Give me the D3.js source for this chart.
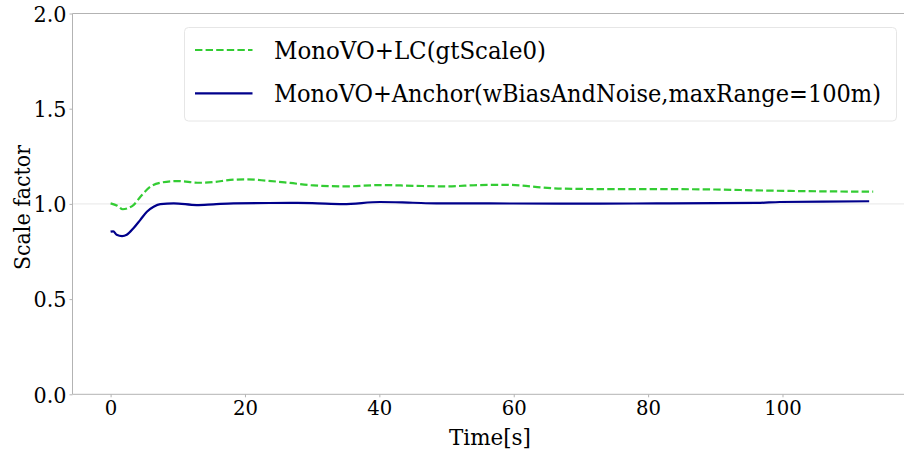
<!DOCTYPE html>
<html>
<head>
<meta charset="utf-8">
<script src="https://cdn.jsdelivr.net/npm/d3@7"></script>
<style>
  html, body { margin: 0; padding: 0; background: #fff; }
  svg { display: block; }
  text { font-family: "DejaVu Serif", serif; fill: #000; }
</style>
</head>
<body>
<svg id="chart" width="904" height="454"></svg>
<script>
// ---- data ----
const seriesNames = ["MonoVO+LC(gtScale0)", "MonoVO+Anchor(wBiasAndNoise,maxRange=100m)"];

const lcTime  = [0, 1, 1.8, 2.6, 3.4, 4.5, 5.9, 7.4, 9.8, 13.3, 15.5, 17.8, 20.3, 23.2, 26.7, 30.2, 35.1, 40.1, 45.1, 50.0, 55.0, 59.0, 61, 64, 67.4, 72.8, 80, 86.2, 91.1, 96.2, 101.1, 106.1, 113.5];
const lcScale = [1.003, 0.99, 0.972, 0.978, 0.994, 1.04, 1.090, 1.111, 1.120, 1.111, 1.115, 1.126, 1.129, 1.122, 1.110, 1.097, 1.092, 1.099, 1.095, 1.092, 1.099, 1.100, 1.097, 1.087, 1.080, 1.078, 1.078, 1.077, 1.075, 1.071, 1.068, 1.066, 1.064];

const anchorTime  = [0, 0.4, 0.9, 1.7, 2.4, 3.4, 4.4, 5.4, 6.4, 7.4, 9.4, 12.8, 15.3, 18.3, 26.7, 30, 34.6, 40.1, 45, 48.5, 60, 72.8, 81.3, 90, 96.2, 99.6, 106, 112.9];
const anchorScale = [0.854, 0.856, 0.838, 0.831, 0.838, 0.872, 0.915, 0.959, 0.985, 0.999, 1.003, 0.994, 0.998, 1.003, 1.005, 1.004, 0.999, 1.010, 1.006, 1.003, 1.002, 1.001, 1.003, 1.004, 1.005, 1.010, 1.012, 1.014];

const xTicks = [0, 20, 40, 60, 80, 100];
const yTicks = [0.0, 0.5, 1.0, 1.5, 2.0];
const xLabel = "Time[s]";
const yLabel = "Scale factor";

// ---- layout ----
const svg = d3.select("#chart");
const pLeft = 72.5, pRight = 911.5, pTop = 13.5, pBottom = 394.3;
const FONT = '"DejaVu Serif", serif';

// fit a text to a target width: shrink font if needed, then fine-tune with textLength
function fit(sel, target, baseSize) {
  sel.each(function (d) {
    const t = d3.select(this);
    const w = typeof target === "function" ? target(d) : target;
    t.style("font-size", baseSize + "px").style("font-family", FONT);
    const nat = this.getComputedTextLength();
    let size = baseSize;
    if (nat > w * 1.04) size = baseSize * (w * 1.04) / nat;
    t.style("font-size", size.toFixed(2) + "px");
    t.attr("textLength", w).attr("lengthAdjust", "spacingAndGlyphs");
  });
}

const x = d3.scaleLinear().domain([-5.67, 119.2]).range([pLeft, pRight]);
const y = d3.scaleLinear().domain([0, 2]).range([pBottom, pTop]);

const spineColor = "#b3b3b3";

// reference line at 1.0
svg.append("line")
  .attr("x1", pLeft).attr("x2", pRight)
  .attr("y1", y(1)).attr("y2", y(1))
  .attr("stroke", "#ececec").attr("stroke-width", 1.2);

// axes
const fontSize = 24;
const yAxis = d3.axisLeft(y).tickValues(yTicks).tickFormat(d3.format(".1f")).tickSize(3).tickPadding(3);
const gy = svg.append("g").attr("transform", `translate(${pLeft},0)`).call(yAxis);
gy.attr("font-family", null).attr("font-size", null);
gy.select(".domain").remove();
gy.selectAll(".tick line").attr("stroke", spineColor);
gy.selectAll(".tick text").attr("dy", "0.36em").call(fit, 33, fontSize);

const xAxis = d3.axisBottom(x).tickValues(xTicks).tickFormat(d3.format("d")).tickSize(3).tickPadding(2);
const gx = svg.append("g").attr("transform", `translate(0,${pBottom})`).call(xAxis);
gx.attr("font-family", null).attr("font-size", null);
gx.select(".domain").remove();
gx.selectAll(".tick line").attr("stroke", spineColor);
gx.selectAll(".tick text").attr("dy", "0.76em").call(fit, d => String(d).length * 12.5, fontSize);

// spines
svg.append("line").attr("x1", pLeft).attr("x2", pLeft).attr("y1", pTop).attr("y2", pBottom).attr("stroke", spineColor).attr("stroke-width", 1);
svg.append("line").attr("x1", pLeft).attr("x2", pRight).attr("y1", pBottom).attr("y2", pBottom).attr("stroke", spineColor).attr("stroke-width", 1);
svg.append("line").attr("x1", pLeft).attr("x2", pRight).attr("y1", pTop).attr("y2", pTop).attr("stroke", spineColor).attr("stroke-width", 1);
svg.append("line").attr("x1", pRight).attr("x2", pRight).attr("y1", pTop).attr("y2", pBottom).attr("stroke", spineColor).attr("stroke-width", 1);

// axis labels
svg.append("text").attr("x", (pLeft + pRight) / 2 - 2).attr("y", 445)
  .attr("text-anchor", "middle").text(xLabel).call(fit, 82, 25);
svg.append("text").attr("transform", "translate(30,207.5) rotate(-90)")
  .attr("text-anchor", "middle").text(yLabel).call(fit, 125, 25);

// lines
const line = d3.line().x(d => x(d[0])).y(d => y(d[1])).curve(d3.curveMonotoneX);
const lcData = lcTime.map((t, i) => [t, lcScale[i]]);
const anchorData = anchorTime.map((t, i) => [t, anchorScale[i]]);

const colors = ["#33cc33", "#00008b"];
const dashes = ["7.4,3.2", null];

svg.append("path").datum(lcData).attr("d", line)
  .attr("fill", "none").attr("stroke", colors[0]).attr("stroke-width", 2.2)
  .attr("stroke-dasharray", dashes[0]);
svg.append("path").datum(anchorData).attr("d", line)
  .attr("fill", "none").attr("stroke", colors[1]).attr("stroke-width", 2.2);

// legend
const lg = svg.append("g");
lg.append("rect").attr("x", 184.5).attr("y", 27.5).attr("width", 712).attr("height", 93.5)
  .attr("rx", 4).attr("fill", "#fff").attr("fill-opacity", 0.9)
  .attr("stroke", "#e6e6e6").attr("stroke-width", 1);
const legY = [50, 93.3];
const textLens = [272, 607];
seriesNames.forEach((name, i) => {
  lg.append("line").attr("x1", 195).attr("x2", 252.5).attr("y1", legY[i]).attr("y2", legY[i])
    .attr("stroke", colors[i]).attr("stroke-width", 2.2)
    .attr("stroke-dasharray", dashes[i]);
  lg.append("text").attr("x", 274).attr("y", legY[i] + 8.5)
    .text(name).call(fit, textLens[i], 25);
});
</script>
</body>
</html>
